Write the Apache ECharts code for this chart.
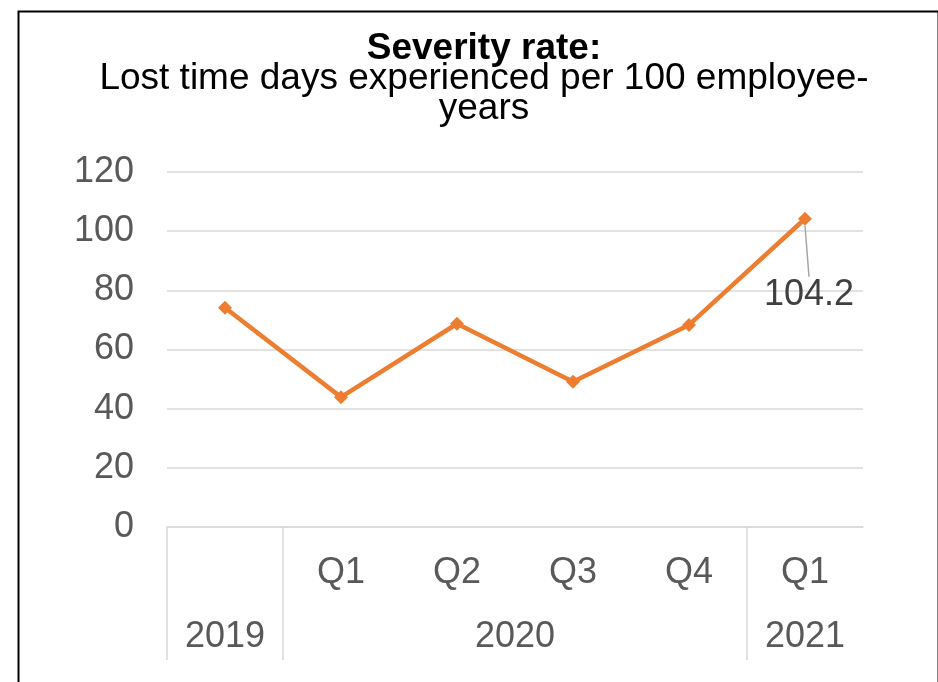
<!DOCTYPE html>
<html>
<head>
<meta charset="utf-8">
<script src="https://cdn.jsdelivr.net/npm/echarts@6/dist/echarts.min.js"></script>
<style>
html,body{margin:0;padding:0;background:#fff;}
#chart{width:938px;height:682px;}
</style>
</head>
<body>
<div id="chart"></div>
<script>
// ---- data ----
var categoryKeys = ['2019', '2020 Q1', '2020 Q2', '2020 Q3', '2020 Q4', '2021 Q1'];
var quarterLabels = ['', 'Q1', 'Q2', 'Q3', 'Q4', 'Q1'];
var yearLabels = ['2019', '2020', '2021'];
var yearSpans = [1, 4, 1];
var severityValues = [74.1, 43.9, 68.7, 49.1, 68.3, 104.2];
var yTicks = [0, 20, 40, 60, 80, 100, 120];

// group boundaries / centers derived from spans
var yearBounds = [0];
var yearCenters = [];
(function () {
  var acc = 0;
  for (var i = 0; i < yearSpans.length; i++) {
    yearCenters.push(acc + yearSpans[i] / 2);
    acc += yearSpans[i];
    yearBounds.push(acc);
  }
})();

var FONT = '"Liberation Sans", Arial, sans-serif';
var chart = echarts.init(document.getElementById('chart'), null, {renderer: 'canvas'});

var option = {
  backgroundColor: '#ffffff',
  animation: false,
  title: {
    left: 479,
    top: 28,
    textAlign: 'center',
    text: '{b|Severity rate:}\n{n|Lost time days experienced per 100 employee-}\n{n|years}',
    textStyle: {
      rich: {
        b: {fontFamily: FONT, fontSize: 37, fontWeight: 'bold', color: '#000000', lineHeight: 31},
        n: {fontFamily: FONT, fontSize: 37, fontWeight: 'normal', color: '#000000', lineHeight: 30}
      }
    }
  },
  grid: {left: 167, right: 75, top: 172, bottom: 155, containLabel: false},
  xAxis: [
    {
      type: 'category',
      data: categoryKeys,
      boundaryGap: true,
      axisLine: {show: true, lineStyle: {color: '#d9d9d9', width: 1.5}},
      axisTick: {show: false},
      splitLine: {show: false},
      axisLabel: {
        color: '#595959', fontFamily: FONT, fontSize: 36, margin: 28, lineHeight: 36,
        interval: 0,
        formatter: function (v, idx) { return quarterLabels[idx]; }
      }
    },
    {
      type: 'value',
      position: 'bottom',
      min: 0,
      max: categoryKeys.length,
      axisLine: {show: false},
      splitLine: {show: false},
      axisTick: {
        show: true, inside: false, length: 133,
        customValues: yearBounds.slice(0, yearBounds.length - 1),
        lineStyle: {color: '#d9d9d9', width: 1.5}
      },
      axisLabel: {
        show: true, color: '#595959', fontFamily: FONT, fontSize: 36, margin: 92, lineHeight: 36,
        customValues: yearCenters,
        formatter: function (v) {
          for (var i = 0; i < yearCenters.length; i++) {
            if (Math.abs(yearCenters[i] - v) < 1e-6) return yearLabels[i];
          }
          return '';
        }
      }
    }
  ],
  yAxis: {
    type: 'value',
    min: yTicks[0],
    max: yTicks[yTicks.length - 1],
    interval: 20,
    axisLine: {show: false},
    axisTick: {show: false},
    splitLine: {show: true, lineStyle: {color: '#d9d9d9', width: 1.5}},
    axisLabel: {color: '#595959', fontFamily: FONT, fontSize: 36, margin: 33}
  },
  series: [{
    type: 'line',
    xAxisIndex: 0,
    data: severityValues.map(function (v, i) {
      if (i === severityValues.length - 1) {
        return {
          value: v,
          label: {
            show: true, position: 'inside',
            color: '#404040', fontFamily: FONT, fontSize: 36,
            formatter: function (p) { return p.value.toFixed(1); }
          },
          labelLine: {show: true, lineStyle: {color: '#a6a6a6', width: 1.5}}
        };
      }
      return v;
    }),
    symbol: 'diamond',
    symbolSize: 14,
    lineStyle: {color: '#ED7D31', width: 4.5},
    itemStyle: {color: '#ED7D31'},
    labelLayout: function (params) {
      if (params.dataIndex === severityValues.length - 1) {
        return {dx: 4, dy: 76};
      }
      return {};
    },
    z: 3
  }],
  graphic: [{
    type: 'rect',
    left: 16, top: 9,
    shape: {width: 920, height: 700},
    style: {fill: null, stroke: '#000000', lineWidth: 2},
    z: 100,
    silent: true
  }]
};
chart.setOption(option);
</script>
</body>
</html>
